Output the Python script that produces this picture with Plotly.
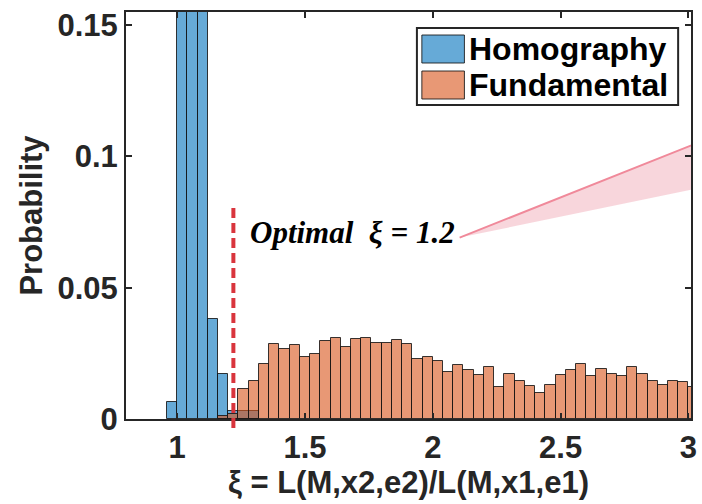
import plotly.graph_objects as go

# ---- data ----
bin_width = 0.04
homography_start = 0.96
homography_prob = [0.0066, 0.25, 0.38, 0.30, 0.0379, 0.017, 0.003, 0.003, 0.003]
fundamental_start = 1.16
fundamental_prob = [0.0012, 0.002, 0.0113, 0.0144,
                    0.0210, 0.0286, 0.0265, 0.0283, 0.0237, 0.0248, 0.0297, 0.0308,
                    0.0275, 0.0304, 0.0308, 0.0288, 0.0288, 0.0300, 0.0285, 0.0227,
                    0.0235, 0.0222, 0.0180,
                    0.0205, 0.0185, 0.0166, 0.0199, 0.0121, 0.0170, 0.0144, 0.0125,
                    0.0100, 0.0128, 0.0166, 0.0185, 0.0208, 0.0162, 0.0190, 0.0172,
                    0.0162, 0.0199, 0.0170, 0.0144, 0.0128, 0.0144, 0.0140, 0.0121]
series_names = ["Homography", "Fundamental"]
optimal_xi = 1.22
optimal_label = "Optimal\u00a0\u00a0\u03be = 1.2"
x_ticks = [1, 1.5, 2, 2.5, 3]
y_ticks = [0, 0.05, 0.1, 0.15]
y_tick_labels = ["0", "0.05", "0.1", "0.15"]
callout_x = [2.105, 3.3, 3.3]
callout_y = [0.0691, 0.1154, 0.0931]

def centers(start, n):
    return [start + bin_width * (i + 0.5) for i in range(n)]

BLUE = "rgba(0,114,189,0.6)"
ORANGE = "rgba(217,83,25,0.6)"
EDGE = "rgba(20,20,20,0.85)"
FONT = "Liberation Sans, Arial, sans-serif"
W, H = 702, 504
L, R, T, B = 126, 5, 12, 85

fig = go.Figure()
fig.add_trace(go.Bar(x=centers(homography_start, len(homography_prob)), y=homography_prob,
                     width=bin_width, name=series_names[0], showlegend=False,
                     marker=dict(color=BLUE, line=dict(color=EDGE, width=1))))
fig.add_trace(go.Bar(x=centers(fundamental_start, len(fundamental_prob)), y=fundamental_prob,
                     width=bin_width, name=series_names[1], showlegend=False,
                     marker=dict(color=ORANGE, line=dict(color=EDGE, width=1))))

# callout wedge
fig.add_trace(go.Scatter(x=callout_x, y=callout_y, fill="toself", mode="lines",
                         line=dict(color="#F0899A", width=2),
                         fillcolor="rgba(246,200,208,0.75)", showlegend=False, hoverinfo="skip"))

fig.update_layout(
    width=W, height=H,
    margin=dict(l=L, r=R, t=T, b=B),
    plot_bgcolor="white", paper_bgcolor="white",
    barmode="overlay", bargap=0,
    font=dict(family=FONT, color="#262626"),
    xaxis=dict(range=[0.8, 3.01], tickvals=x_ticks, ticks="inside", ticklen=6, tickwidth=2,
               tickcolor="#262626", showline=True, linecolor="#262626", linewidth=2,
               mirror="ticks", showgrid=False, zeroline=False,
               tickfont=dict(size=31, family=FONT, color="#262626", weight="bold"),
               title=dict(text="\u03be = L(M,x2,e2)/L(M,x1,e1)", standoff=7,
                          font=dict(size=31, family=FONT, color="#262626", weight="bold"))),
    yaxis=dict(range=[0, 0.155], tickvals=y_ticks, ticktext=y_tick_labels, ticks="inside",
               ticklen=6, tickwidth=2, tickcolor="#262626", showline=True, linecolor="#262626",
               linewidth=2, mirror="ticks", showgrid=False, zeroline=False,
               tickfont=dict(size=31, family=FONT, color="#262626", weight="bold"),
               title=dict(text="Probability", standoff=6,
                          font=dict(size=31, family=FONT, color="#262626", weight="bold"))),
)

# optimal threshold line
fig.add_shape(type="line", xref="x", yref="paper", x0=optimal_xi, x1=optimal_xi,
              y0=-0.022, y1=0.53, line=dict(color="#D9353D", width=4, dash="10px,5px"))

fig.add_annotation(x=1.276, y=0.0711, xref="x", yref="y", xanchor="left", yanchor="middle",
                   text="<b><i>" + optimal_label + "</i></b>", showarrow=False,
                   font=dict(family="Liberation Serif, Times New Roman, serif", size=31, color="black"))

# legend box (custom, MATLAB-style large swatches)
def px_x(p):
    return (p - L) / (W - R - L)

def px_y(p):
    return (H - B - p) / (H - B - T)

fig.add_shape(type="rect", xref="paper", yref="paper", x0=px_x(420), x1=px_x(684),
              y0=px_y(105), y1=px_y(28), line=dict(color="#262626", width=2), fillcolor="white")
for i, (name, col) in enumerate(zip(series_names, [BLUE, ORANGE])):
    top = 35 + i * 36
    fig.add_shape(type="rect", xref="paper", yref="paper", x0=px_x(425), x1=px_x(468),
                  y0=px_y(top + 28), y1=px_y(top), line=dict(color=EDGE, width=1), fillcolor=col)
    fig.add_annotation(xref="paper", yref="paper", x=px_x(471), y=px_y(top + 14),
                       xanchor="left", yanchor="middle", showarrow=False,
                       text="<b>" + name + "</b>",
                       font=dict(family=FONT, size=32, color="black"))

fig.write_html("out.html", config={"displayModeBar": False},
               post_script="document.body.style.margin='0';document.body.style.overflow='hidden';")
